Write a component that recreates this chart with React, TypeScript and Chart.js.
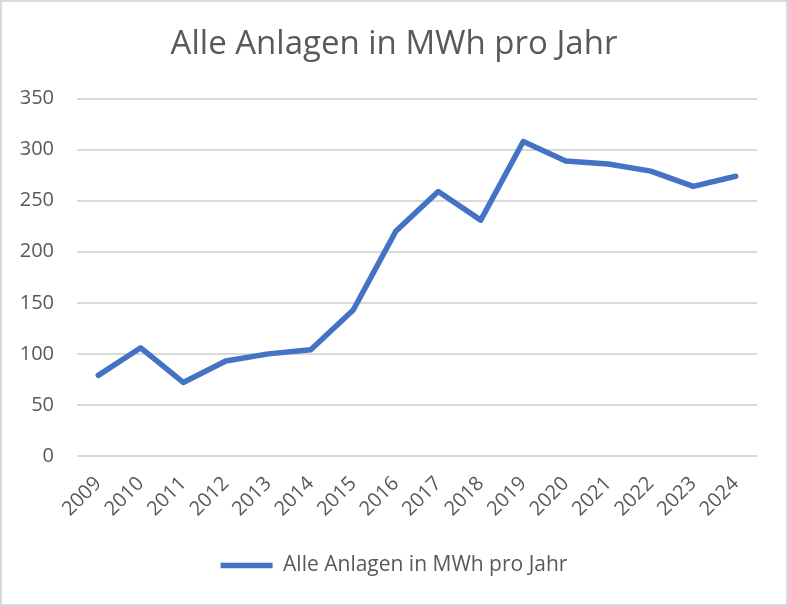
import React, { useEffect, useRef } from "react";
import { Chart, registerables } from "chart.js";

Chart.register(...registerables);

const TITLE = "Alle Anlagen in MWh pro Jahr";
const SERIES_LABEL = "Alle Anlagen in MWh pro Jahr";
const YEARS = ["2009", "2010", "2011", "2012", "2013", "2014", "2015", "2016", "2017", "2018", "2019", "2020", "2021", "2022", "2023", "2024"];
const VALUES = [79, 106, 72, 93, 100, 104, 143, 220, 259, 231, 308, 289, 286, 279, 264, 274];
const Y_MIN = 0;
const Y_MAX = 350;
const Y_STEP = 50;

const FONT = "'Open Sans', sans-serif";
const TEXT = "#595959";
const LINE = "#4472C4";
const GRID = "#D9D9D9";

export default function App() {
  const ref = useRef<HTMLCanvasElement>(null);

  useEffect(() => {
    const frame = {
      id: "frame",
      beforeDraw(chart: any) {
        const c = chart.ctx;
        c.save();
        c.fillStyle = "#ffffff";
        c.fillRect(0, 0, chart.width, chart.height);
        c.restore();
      },
      afterDraw(chart: any) {
        const c = chart.ctx;
        c.save();
        c.strokeStyle = GRID;
        c.lineWidth = 2;
        c.strokeRect(1, 1, chart.width - 2, chart.height - 2);
        c.restore();
      },
    };
    const chart = new Chart(ref.current as HTMLCanvasElement, {
      type: "line",
      data: {
        labels: YEARS,
        datasets: [
          {
            label: SERIES_LABEL,
            data: VALUES,
            borderColor: LINE,
            backgroundColor: LINE,
            borderWidth: 5.5,
            pointRadius: 0,
            pointHoverRadius: 0,
            borderCapStyle: "round",
            borderJoinStyle: "round",
            tension: 0,
            fill: false,
            yAxisID: "y",
          },
        ],
      },
      options: {
        responsive: false,
        animation: false,
        events: [],
        layout: { padding: { left: 0, right: 0, top: 0, bottom: 20 } },
        plugins: {
          title: {
            display: true,
            text: TITLE,
            color: TEXT,
            font: { family: FONT, size: 33, weight: "normal", lineHeight: 1.2 },
            padding: { top: 25, bottom: 34 },
          },
          legend: {
            position: "bottom",
            labels: {
              usePointStyle: true,
              pointStyle: "line",
              pointStyleWidth: 52,
              color: TEXT,
              font: { family: FONT, size: 21 },
              padding: 10,
            },
          },
          tooltip: { enabled: false },
        },
        scales: {
          x: {
            offset: true,
            grid: { display: false },
            border: { display: false },
            ticks: {
              color: TEXT,
              font: { family: FONT, size: 20 },
              minRotation: 45,
              maxRotation: 45,
              padding: 8,
              autoSkip: false,
            },
            afterFit: (s: any) => {
              s.height = 89;
            },
          },
          y: {
            min: Y_MIN,
            max: Y_MAX,
            ticks: { stepSize: Y_STEP, color: TEXT, font: { family: FONT, size: 20 }, padding: 23 },
            grid: { color: GRID, lineWidth: 2, drawTicks: false },
            border: { display: false },
            afterFit: (s: any) => {
              s.width = 77;
            },
          },
          yRight: {
            type: "linear",
            position: "right",
            display: true,
            min: Y_MIN,
            max: Y_MAX,
            grid: { display: false, drawTicks: false },
            border: { display: false },
            ticks: { display: false },
            afterFit: (s: any) => {
              s.width = 31;
            },
          },
        },
      },
      plugins: [frame],
    } as any);
    return () => chart.destroy();
  }, []);

  return (
    <div style={{ position: "fixed", left: 0, top: 0, width: 788, height: 606, background: "#fff" }}>
      <canvas ref={ref} width={788} height={606} style={{ display: "block", width: 788, height: 606 }} />
    </div>
  );
}
